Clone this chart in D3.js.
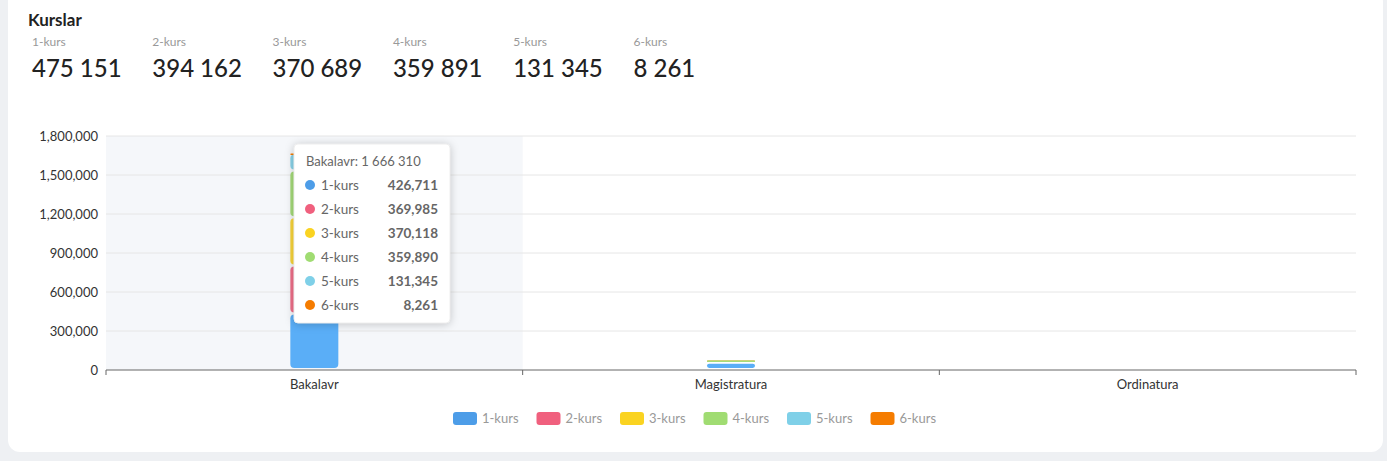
<!DOCTYPE html>
<html><head><meta charset="utf-8">
<script src="https://cdn.jsdelivr.net/npm/d3@7"></script>
<style>
body{margin:0;background:#eef0f3;font-family:Lato,"Noto Sans",sans-serif;}
</style></head>
<body>
<svg id="c" width="1387" height="461"></svg>
<script>
const categories=["Bakalavr","Magistratura","Ordinatura"];
const seriesNames=["1-kurs","2-kurs","3-kurs","4-kurs","5-kurs","6-kurs"];
const colors=["#5aaef7","#f0708a","#fad63a","#a5dc7a","#8ad4ea","#f57c00"];
const legendColors=["#4d9de8","#f0607e","#fad321","#a0dc72","#7fd0e8","#f57c00"];
const s1=[426711,48440,0];
const s2=[369985,24177,0];
const s3=[370118,571,0];
const s4=[359890,1,0];
const s5=[131345,0,0];
const s6=[8261,0,0];
const totals=["475 151","394 162","370 689","359 891","131 345","8 261"];
const yTicks=[0,300000,600000,900000,1200000,1500000,1800000];
const series=[s1,s2,s3,s4,s5,s6];

const svg=d3.select("#c");
svg.append("rect").attr("x",8).attr("y",-10).attr("width",1375).attr("height",462).attr("rx",12).attr("fill","#fff");
svg.append("text").attr("x",28).attr("y",26).text("Kurslar").attr("font-size",17).attr("font-weight",700).attr("fill","#222");
seriesNames.forEach((n,i)=>{
  const x=32+i*120.3;
  svg.append("text").attr("x",x).attr("y",46).text(n).attr("font-size",12).attr("fill","#999");
  svg.append("text").attr("x",x).attr("y",77).text(totals[i]).attr("font-size",24).attr("font-weight",500).attr("fill","#222");
});
const x=d3.scaleBand().domain(categories).range([106,1356]);
const y=d3.scaleLinear().domain([0,1800000]).range([370,136]);
svg.append("rect").attr("x",x("Bakalavr")).attr("y",136).attr("width",x.bandwidth()).attr("height",234).attr("fill","#f5f7fa");
yTicks.forEach(t=>{
  if(t>0) svg.append("line").attr("x1",106).attr("x2",1356).attr("y1",y(t)).attr("y2",y(t)).attr("stroke","#e6e6e6");
  svg.append("text").attr("x",98).attr("y",y(t)+5).attr("text-anchor","end").attr("font-size",13).attr("fill","#333").text(d3.format(",")(t));
});
svg.append("line").attr("x1",106).attr("x2",1356).attr("y1",370).attr("y2",370).attr("stroke","#666");
[0,1,2,3].forEach(i=>{const xx=106+i*x.bandwidth();svg.append("line").attr("x1",xx).attr("x2",xx).attr("y1",370).attr("y2",375).attr("stroke","#666");});
categories.forEach(c=>svg.append("text").attr("x",x(c)+x.bandwidth()/2).attr("y",389).attr("text-anchor","middle").attr("font-size",13).attr("fill","#333").text(c));
const bw=48;
categories.forEach((c,ci)=>{
  let acc=0;
  series.forEach((s,si)=>{
    const v=s[ci]; if(v<=0) return;
    const y0=y(acc), y1=y(acc+v); acc+=v;
    const h=Math.max(y0-y1-2,1.5);
    svg.append("rect").attr("x",x(c)+x.bandwidth()/2-bw/2).attr("y",y1).attr("width",bw).attr("height",h)
      .attr("rx",Math.min(4,h/2)).attr("fill",colors[si]);
  });
});
// legend
seriesNames.forEach((n,i)=>{
  const lx=453+i*83.5;
  svg.append("rect").attr("x",lx).attr("y",412).attr("width",24).attr("height",13).attr("rx",3).attr("fill",legendColors[i]);
  svg.append("text").attr("x",lx+29).attr("y",423).attr("font-size",13).attr("fill","#999").text(n);
});
// tooltip
const tg=svg.append("g").attr("transform","translate(294,144)");
tg.append("rect").attr("width",156).attr("height",179).attr("rx",4).attr("fill","#fff").attr("stroke","#eee")
  .style("filter","drop-shadow(0 1px 4px rgba(0,0,0,0.2))");
const tot=series.reduce((a,s)=>a+s[0],0);
tg.append("text").attr("x",12).attr("y",22).attr("font-size",13).attr("fill","#666").text("Bakalavr: "+d3.format(",")(tot).replace(/,/g," "));
seriesNames.forEach((n,i)=>{
  const yy=46+i*24;
  tg.append("circle").attr("cx",16).attr("cy",yy-5).attr("r",5).attr("fill",legendColors[i]);
  tg.append("text").attr("x",27).attr("y",yy).attr("font-size",13.5).attr("fill","#666").text(n);
  tg.append("text").attr("x",144).attr("y",yy).attr("text-anchor","end").attr("font-size",13.5).attr("font-weight",700).attr("fill","#666").text(d3.format(",")(series[i][0]));
});
</script></body></html>
